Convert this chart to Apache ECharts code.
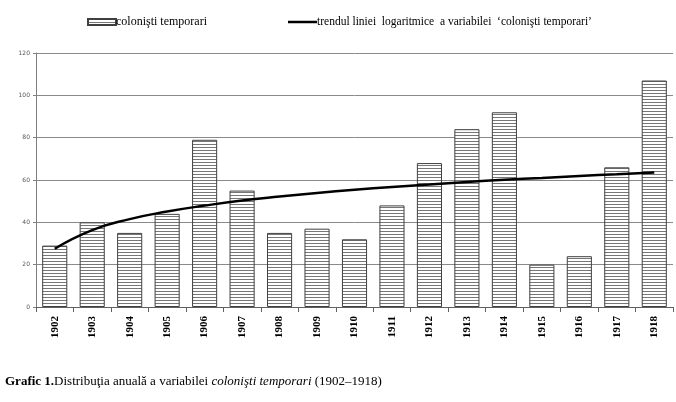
<!DOCTYPE html>
<html>
<head>
<meta charset="utf-8">
<script src="https://cdn.jsdelivr.net/npm/echarts@6/dist/echarts.min.js"></script>
<style>
  html, body { margin: 0; padding: 0; background: #fff; }
  #chart { width: 676px; height: 402px; }
</style>
</head>
<body>
<div id="chart"></div>
<script>
// date
var ani = ['1902','1903','1904','1905','1906','1907','1908','1909','1910','1911','1912','1913','1914','1915','1916','1917','1918'];
var colonisti = [29, 40, 35, 44, 79, 55, 35, 37, 32, 48, 68, 84, 92, 20, 24, 66, 107];
// trendul logaritmic, citit de pe linie
var trend = [27.5, 36.3, 41.5, 45.1, 47.9, 50.3, 52.2, 53.9, 55.4, 56.7, 57.9, 59.1, 60.1, 61.0, 61.9, 62.7, 63.5];
var yTicks = [0, 20, 40, 60, 80, 100, 120];

// hasura orizontala pt bare
function hasura() {
    var c = document.createElement('canvas');
    c.width = 4;
    c.height = 3;
    var ctx = c.getContext('2d');
    ctx.fillStyle = '#ffffff';
    ctx.fillRect(0, 0, 4, 3);
    ctx.fillStyle = '#777777';
    ctx.fillRect(0, 0, 4, 1);
    return c;
}

var serif = '"Liberation Serif", "Times New Roman", serif';
var numeBare = 'colonişti temporari';
var numeTrend = 'trendul liniei  logaritmice  a variabilei  ‘colonişti temporari’';
var chart = echarts.init(document.getElementById('chart'), null, { renderer: 'canvas' });

var option = {
    backgroundColor: '#fff',
    animation: false,
    textStyle: { fontFamily: serif },
    legend: [{
        data: [{ name: numeBare, icon: 'rect' }],
        left: 82,
        top: 11,
        itemWidth: 28,
        itemHeight: 6,
        textStyle: { fontFamily: serif, fontSize: 12, color: '#000', padding: [0, 0, 0, -5] }
    }, {
        data: [{ name: numeTrend, icon: 'rect' }],
        left: 283,
        top: 11,
        itemWidth: 29,
        itemHeight: 2.5,
        textStyle: { fontFamily: serif, fontSize: 11.5, color: '#000', padding: [0, 0, 0, -5] }
    }],
    title: {
        left: 0,
        top: 370,
        text: '{b|Grafic 1.}{n|Distribuţia anuală a variabilei }{i|colonişti temporari}{n| (1902–1918)}',
        textStyle: {
            fontWeight: 'normal',
            rich: {
                b: { fontFamily: serif, fontSize: 13, fontWeight: 'bold', color: '#000' },
                n: { fontFamily: serif, fontSize: 13, fontWeight: 'normal', color: '#000' },
                i: { fontFamily: serif, fontSize: 13, fontWeight: 'normal', fontStyle: 'italic', color: '#000' }
            }
        }
    },
    grid: {
        left: 36,
        right: 3,
        top: 53,
        bottom: 95
    },
    xAxis: {
        type: 'category',
        data: ani,
        axisLine: { lineStyle: { color: '#606060', width: 1 } },
        axisTick: { show: true, alignWithLabel: false, length: 5, lineStyle: { color: '#606060' } },
        axisLabel: {
            rotate: 90,
            margin: 9,
            fontFamily: serif,
            fontSize: 11,
            fontWeight: 'bold',
            color: '#000'
        }
    },
    yAxis: {
        type: 'value',
        min: 0,
        max: yTicks[yTicks.length - 1],
        interval: 20,
        axisLine: { show: true, lineStyle: { color: '#808080' } },
        axisTick: { show: true, length: 3, lineStyle: { color: '#808080' } },
        axisLabel: {
            fontFamily: '"DejaVu Sans", sans-serif',
            fontSize: 6,
            color: '#555',
            margin: 6
        },
        splitLine: { lineStyle: { color: '#8a8a8a', width: 1 } }
    },
    series: [{
        name: numeBare,
        type: 'bar',
        data: colonisti,
        barCategoryGap: '33%',
        itemStyle: {
            color: { image: hasura(), repeat: 'repeat' },
            borderColor: '#404040',
            borderWidth: 1
        }
    }, {
        name: numeTrend,
        type: 'line',
        data: trend,
        smooth: true,
        symbol: 'none',
        lineStyle: { color: '#000', width: 2.5 },
        itemStyle: { color: '#000' },
        z: 5
    }]
};

chart.setOption(option);
</script>
</body>
</html>
